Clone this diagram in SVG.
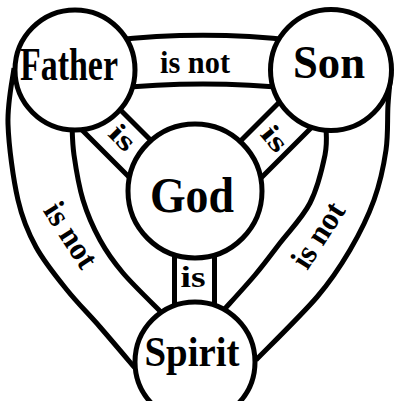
<svg xmlns="http://www.w3.org/2000/svg" width="401" height="401" viewBox="0 0 401 401">
<style>
.ln{fill:none;stroke:#000;stroke-width:5;stroke-linecap:butt}
.nd{fill:#fff;stroke:#000;stroke-width:5}
.t{font-family:"Liberation Serif","DejaVu Serif",serif;font-weight:bold;fill:#000;text-anchor:middle}
</style>
<rect x="0" y="0" width="401" height="401" fill="#fff"/>
<g id="connectors">
  <!-- top band Father-Son -->
  <path class="ln" d="M110 40.5 Q203 30 296 40.5"/>
  <path class="ln" d="M110 89 Q203 79 296 89"/>
  <!-- left band Father-Spirit -->
  <path class="ln" d="M14 68 C13 77.3 7.3 102 8 124 C8.7 146 13.3 179.5 18 200 C22.7 220.5 27.8 232 36 247 C44.2 262 56.3 276.7 67 290 C77.7 303.3 88.7 314 100 327 C111.3 340 129.2 361.2 135 368"/>
  <path class="ln" d="M72 125 C72.3 130 72.2 142.5 74 155 C75.8 167.5 78.7 185.8 83 200 C87.3 214.2 93.3 227.8 100 240 C106.7 252.2 112.7 260.8 123 273 C133.3 285.2 155.5 306.3 162 313"/>
  <!-- right band Son-Spirit -->
  <path class="ln" d="M391 72 C390.5 77.5 388.8 92 388 105 C387.2 118 388.3 134.2 386 150 C383.7 165.8 380 183.3 374 200 C368 216.7 359.5 233.8 350 250 C340.5 266.2 332.7 278.7 317 297 C301.3 315.3 266.2 349.5 256 360"/>
  <path class="ln" d="M326 125 C325.8 130 327.7 142 325 155 C322.3 168 317.5 188.3 310 203 C302.5 217.7 289.2 231 280 243 C270.8 255 264.7 263.5 255 275 C245.3 286.5 227.5 305.8 222 312"/>
  <!-- spokes -->
  <path class="ln" d="M60 49.5 L200 189.5 M60 108 L190 238"/>
  <path class="ln" d="M320 61.5 L200 181.5 M340 99 L210 229"/>
  <path class="ln" d="M174.5 200 L174.5 340 M214.5 200 L214.5 340"/>
</g>
<g id="labels">
  <text class="t" x="195" y="73" font-size="32" textLength="70" lengthAdjust="spacingAndGlyphs">is not</text>
  <text class="t" font-size="32" textLength="72" lengthAdjust="spacingAndGlyphs" transform="translate(68 237) rotate(57)" x="0" y="7">is not</text>
  <text class="t" font-size="32" textLength="72" lengthAdjust="spacingAndGlyphs" transform="translate(321 237) rotate(-57)" x="0" y="7">is not</text>
  <text class="t" font-size="28" textLength="26" lengthAdjust="spacingAndGlyphs" transform="translate(121 139) rotate(45)" x="0" y="7">is</text>
  <text class="t" font-size="28" textLength="26" lengthAdjust="spacingAndGlyphs" transform="translate(273 140) rotate(50)" x="0" y="7">is</text>
  <text class="t" x="193" y="287" font-size="30" textLength="25" lengthAdjust="spacingAndGlyphs">is</text>
</g>
<g id="node-father">
  <circle class="nd" cx="75" cy="70" r="60"/>
  <text class="t" x="69" y="80" font-size="46" textLength="98" lengthAdjust="spacingAndGlyphs">Father</text>
</g>
<g id="node-son">
  <circle class="nd" cx="331" cy="70" r="60.5"/>
  <text class="t" x="329" y="78" font-size="46" textLength="72" lengthAdjust="spacingAndGlyphs">Son</text>
</g>
<g id="node-god">
  <circle class="nd" cx="195" cy="191" r="67"/>
  <text class="t" x="192" y="212" font-size="50" textLength="84" lengthAdjust="spacingAndGlyphs">God</text>
</g>
<g id="node-spirit">
  <circle class="nd" cx="195" cy="362" r="60"/>
  <text class="t" x="192" y="366" font-size="42" textLength="95" lengthAdjust="spacingAndGlyphs">Spirit</text>
</g>
</svg>
